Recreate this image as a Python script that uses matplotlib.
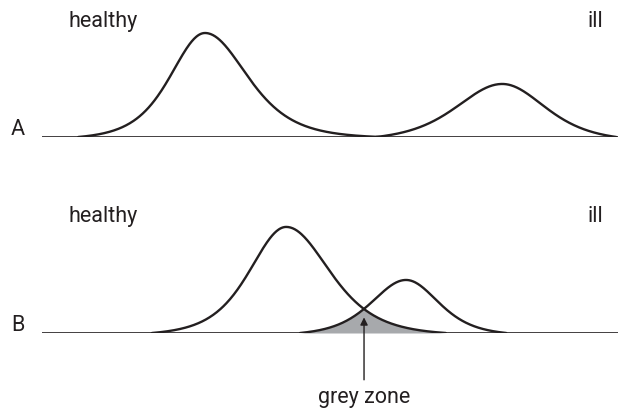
import matplotlib.pyplot as plt
import numpy as np

plt.rcParams['font.family'] = ['Roboto', 'DejaVu Sans']

# curve parameters (x: 0-100 along the baseline, y: healthy peak A = 1)
panels = ['A', 'B']
groups = ['healthy', 'ill']
starts = {'A': [6.3, 58.0], 'B': [19.1, 44.8]}
peaks = {'A': [28.3, 79.9], 'B': [42.4, 63.2]}
ends = {'A': [58.7, 99.7], 'B': [70.1, 80.6]}
spread_left = {'A': [6.25, 8.3], 'B': [6.6, 6.25]}
spread_right = {'A': [7.6, 7.8], 'B': [7.8, 5.9]}
heights = {'A': [1.0, 0.51], 'B': [1.02, 0.51]}

LINE = '#231f20'
GREY = '#a7a9ac'
FS = 15.5


def bump(x, start, peak, end, sl, sr, h, nu=4.5):
    # bell shape with different spread on both sides, closed at start/end
    s = np.where(x < peak, sl, sr)
    f = (1 + (x - peak) ** 2 / (nu * s ** 2)) ** (-(nu + 1) / 2)
    f0 = np.where(x < peak,
                  (1 + (start - peak) ** 2 / (nu * sl ** 2)) ** (-(nu + 1) / 2),
                  (1 + (end - peak) ** 2 / (nu * sr ** 2)) ** (-(nu + 1) / 2))
    return h * np.clip((f - f0) / (1 - f0), 0, None)


fig = plt.figure(figsize=(6.25, 4.12), dpi=100)
# axes boxes in figure fractions, baseline = bottom of each box
boxes = {'A': [42 / 625, 1 - 137 / 412, 576 / 625, 137 / 412],
         'B': [42 / 625, 1 - 333 / 412, 576 / 625, 133 / 412]}
px_per_unit = 104.0

axes = {}
for p in panels:
    ax = fig.add_axes(boxes[p])
    box = boxes[p]
    ax.set_xlim(0, 100)
    ax.set_ylim(0, box[3] * 412 / px_per_unit)
    ax.axis('off')
    ax.axhline(0, color=LINE, lw=1.2)
    for i, g in enumerate(groups):
        x = np.linspace(starts[p][i], ends[p][i], 400)
        y = bump(x, starts[p][i], peaks[p][i], ends[p][i],
                 spread_left[p][i], spread_right[p][i], heights[p][i])
        ax.plot(x, y, color=LINE, lw=1.7, solid_capstyle='round', zorder=3)
    axes[p] = ax
    # panel letter, just above the baseline on the left
    fig.text(11 / 625, box[1] + 2 / 412, p, fontsize=FS, color=LINE,
             ha='left', va='baseline')

# group labels above each panel (text baselines in px from top)
for p, ybase in zip(panels, [27, 222]):
    fig.text(68 / 625, 1 - ybase / 412, 'healthy', fontsize=FS, color=LINE,
             ha='left', va='baseline')
    fig.text(603 / 625, 1 - ybase / 412, 'ill', fontsize=FS, color=LINE,
             ha='right', va='baseline')

# grey zone: overlap of both curves in panel B
ax = axes['B']
xs = np.linspace(starts['B'][1], ends['B'][0], 600)
yh = bump(xs, starts['B'][0], peaks['B'][0], ends['B'][0],
          spread_left['B'][0], spread_right['B'][0], heights['B'][0])
yi = bump(xs, starts['B'][1], peaks['B'][1], ends['B'][1],
          spread_left['B'][1], spread_right['B'][1], heights['B'][1])
overlap = np.minimum(yh, yi)
ax.fill_between(xs, 0, overlap, color=GREY, lw=0, zorder=2)
k = np.argmax(overlap)
x_cross, y_cross = xs[k], overlap[k]

ax.annotate('', xy=(x_cross, y_cross), xytext=(x_cross, -0.45),
            textcoords='data', annotation_clip=False,
            arrowprops=dict(arrowstyle='-|>', color=LINE, lw=1.0,
                            mutation_scale=11, shrinkA=0, shrinkB=6))
ax.text(x_cross, -70 / px_per_unit, 'grey zone', fontsize=FS, color=LINE,
        ha='center', va='baseline', clip_on=False)

fig.savefig('out.png', dpi=100)
